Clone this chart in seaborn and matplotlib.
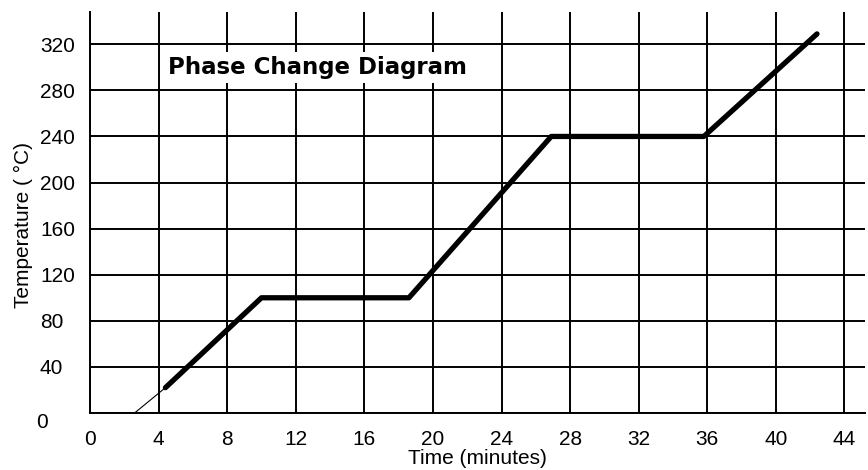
import pandas as pd
import matplotlib.pyplot as plt
import matplotlib.transforms as mtransforms
import seaborn as sns

# heating curve
time_min = [4.4, 10.0, 18.6, 26.9, 35.8, 42.4]
temp_c = [22, 100, 100, 240, 240, 329]
# thin extrapolation back to 0 °C
ext_time = [2.6, 4.4]
ext_temp = [0, 22]

x_ticks = [0, 4, 8, 12, 16, 20, 24, 28, 32, 36, 40, 44]
y_ticks = [0, 40, 80, 120, 160, 200, 240, 280, 320]

sns.set_style("white")
plt.rcParams["font.family"] = ["Liberation Sans Narrow", "Liberation Sans", "DejaVu Sans"]
plt.rcParams["text.color"] = "black"
plt.rcParams["axes.labelcolor"] = "black"

df = pd.DataFrame({"time": time_min, "temp": temp_c})
df_ext = pd.DataFrame({"time": ext_time, "temp": ext_temp})

fig = plt.figure(figsize=(8.68, 4.70), dpi=100)
ax = fig.add_axes([90 / 868, 57 / 470, 775 / 868, 401 / 470])

ax.set_xlim(0, 45.2)
ax.set_ylim(0, 348)
ax.set_xticks(x_ticks)
ax.set_yticks(y_ticks)
ax.grid(True, color="black", linewidth=1.4)
ax.set_axisbelow(True)

sns.lineplot(data=df_ext, x="time", y="temp", sort=False, color="black",
             linewidth=0.8, ax=ax)
sns.lineplot(data=df, x="time", y="temp", sort=False, color="black",
             linewidth=3.8, ax=ax)

for side in ["top", "right"]:
    ax.spines[side].set_visible(False)
for side in ["left", "bottom"]:
    ax.spines[side].set_color("black")
    ax.spines[side].set_linewidth(1.4)

ax.tick_params(axis="both", length=0, labelsize=15, colors="black")
ax.tick_params(axis="x", pad=12)
ax.tick_params(axis="y", pad=36)
for lab in ax.get_yticklabels():
    lab.set_horizontalalignment("left")
# the y "0" label sits a little below the axis line
ylabs = ax.get_yticklabels()
ylabs[0].set_transform(ylabs[0].get_transform()
                       + mtransforms.ScaledTranslation(-4 / 100, -8 / 100, fig.dpi_scale_trans))

ax.set_xlabel("Time (minutes)", fontsize=15, labelpad=0, color="black")
ax.set_ylabel("Temperature ( °C)", fontsize=15, color="black")
ax.yaxis.set_label_coords(-0.074, 0.47)

ax.text(4.55, 300, "Phase Change Diagram", fontsize=16.5, fontweight="bold",
        family=["DejaVu Sans"], va="center", ha="left", color="black",
        bbox=dict(facecolor="white", edgecolor="none", pad=3))

plt.savefig("out.png", dpi=100)
plt.close()
